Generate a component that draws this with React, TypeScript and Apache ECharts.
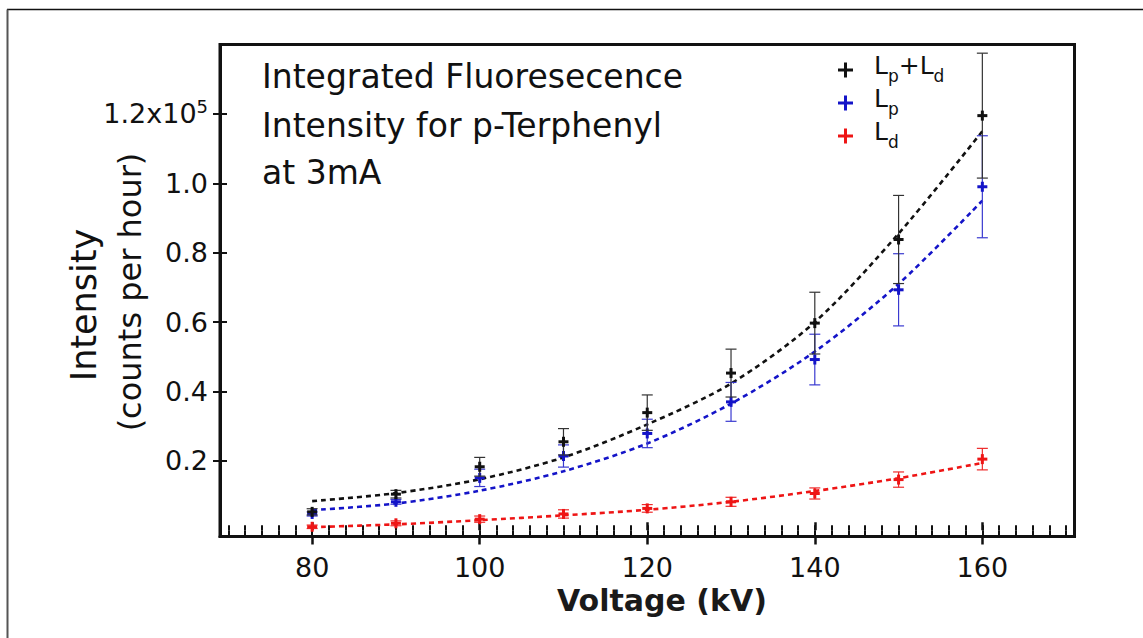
import React, { useEffect, useRef } from 'react';
import * as echarts from 'echarts';

const voltages = [80, 90, 100, 110, 120, 130, 140, 150, 160];
const totalValues = [5300, 10400, 18300, 25500, 33900, 45300, 59700, 83800, 119500];
const totalErrors = [900, 1100, 2700, 3800, 5100, 6900, 8900, 12700, 18000];
const pValues = [4700, 8200, 15100, 21400, 27900, 37000, 49200, 69300, 99000];
const pErrors = [600, 700, 2500, 3200, 4100, 5600, 7300, 10400, 14700];
const dValues = [1000, 2000, 3200, 4700, 6300, 8200, 10600, 14600, 20500];
const dErrors = [500, 700, 900, 1200, 1100, 1300, 1600, 2200, 3100];
const totalFit = [8400, 10700, 14700, 21000, 30500, 42300, 60000, 85500, 115000];
const pFit = [5800, 7700, 11400, 17000, 25000, 36500, 51500, 71000, 95000];
const dFit = [900, 1700, 2900, 4300, 5900, 8200, 11300, 15000, 19400];

const xLabelTicks = [80, 100, 120, 140, 160];
const xMinorTicks = [70, 72, 74, 76, 78, 80, 82, 84, 86, 88, 90, 92, 94, 96, 98, 100, 102, 104, 106, 108, 110, 112, 114, 116, 118, 120, 122, 124, 126, 128, 130, 132, 134, 136, 138, 140, 142, 144, 146, 148, 150, 152, 154, 156, 158, 160, 162, 164, 166, 168, 170];
const yTicks = [20000, 40000, 60000, 80000, 100000, 120000];
const yTickLabels = ['0.2', '0.4', '0.6', '0.8', '1.0', '1.2x10{sup|5}'];
const titleLines = ['Integrated Fluoresecence', 'Intensity for p-Terphenyl', 'at 3mA'];

const FONT = 'DejaVu Sans';
const BLACK = '#111111';
const BLUE = '#1414c8';
const RED = '#ee1515';

const X_MIN = 69;
const X_MAX = 171;
const Y_MIN = -1800;
const Y_MAX = 140000;

const gridRect = { left: 220, right: 68.5, top: 44.5, bottom: 101.5, containLabel: false, outerBoundsMode: 'none' };

function errorSeries(name: string, values: number[], errors: number[], color: string, barColor: string, z: number) {
  return {
    type: 'custom',
    name,
    xAxisIndex: 0,
    yAxisIndex: 0,
    z,
    clip: false,
    data: voltages.map((v, i) => [v, values[i], values[i] - errors[i], values[i] + errors[i]]),
    encode: { x: 0, y: [1, 2, 3] },
    renderItem: (params: any, api: any) => {
      const x = api.value(0);
      const c = api.coord([x, api.value(1)]);
      const lo = api.coord([x, api.value(2)]);
      const hi = api.coord([x, api.value(3)]);
      const cap = 5.5;
      const m = 5;
      const bar = { stroke: barColor, lineWidth: 1.2 };
      const mk = { stroke: color, lineWidth: 3 };
      return {
        type: 'group',
        children: [
          { type: 'line', shape: { x1: lo[0], y1: lo[1], x2: hi[0], y2: hi[1] }, style: bar },
          { type: 'line', shape: { x1: lo[0] - cap, y1: lo[1], x2: lo[0] + cap, y2: lo[1] }, style: bar },
          { type: 'line', shape: { x1: hi[0] - cap, y1: hi[1], x2: hi[0] + cap, y2: hi[1] }, style: bar },
          { type: 'line', shape: { x1: c[0] - m, y1: c[1], x2: c[0] + m, y2: c[1] }, style: mk },
          { type: 'line', shape: { x1: c[0], y1: c[1] - m, x2: c[0], y2: c[1] + m }, style: mk },
        ],
      };
    },
  };
}

function fitSeries(name: string, values: number[], color: string, z: number) {
  return {
    type: 'line',
    name,
    xAxisIndex: 0,
    yAxisIndex: 0,
    z,
    smooth: 0.3,
    showSymbol: false,
    symbol: 'none',
    data: voltages.map((v, i) => [v, values[i]]),
    lineStyle: { color, width: 2.6, type: [5, 4] },
  };
}

function legendItem(y: number, color: string, label: string) {
  return {
    type: 'group',
    children: [
      { type: 'line', shape: { x1: 838, y1: y, x2: 853, y2: y }, style: { stroke: color, lineWidth: 3 } },
      { type: 'line', shape: { x1: 845.5, y1: y - 7.5, x2: 845.5, y2: y + 7.5 }, style: { stroke: color, lineWidth: 3 } },
      {
        type: 'text',
        x: 874,
        y: y + 2,
        style: {
          text: label,
          fill: BLACK,
          font: `25px "${FONT}"`,
          verticalAlign: 'middle',
          textVerticalAlign: 'middle',
          rich: {
            n: { fontSize: 25, fontFamily: FONT, fill: BLACK, lineHeight: 25, verticalAlign: 'bottom', padding: [0, 0, 7, 0] },
            s: { fontSize: 17, fontFamily: FONT, fill: BLACK, lineHeight: 17, verticalAlign: 'bottom' },
          },
        },
      },
    ],
  };
}

function titleText(text: string, y: number) {
  return {
    type: 'text', x: 262, y,
    style: { text, font: `33px "${FONT}"`, fill: BLACK, verticalAlign: 'middle', textVerticalAlign: 'middle' },
  };
}

export default function App() {
  const ref = useRef<HTMLDivElement>(null);
  useEffect(() => {
    document.body.style.margin = '0';
    if (!ref.current) return;
    const chart = echarts.init(ref.current, undefined, { renderer: 'svg' });

    const hiddenY = (gi: number) => ({ type: 'value', gridIndex: gi, min: Y_MIN, max: Y_MAX, show: false });

    const option: any = {
      animation: false,
      backgroundColor: '#ffffff',
      grid: [
        { ...gridRect, show: true, borderColor: BLACK, borderWidth: 3, backgroundColor: 'transparent' },
        { ...gridRect },
        { ...gridRect },
        { ...gridRect },
      ],
      xAxis: [
        {
          type: 'value', gridIndex: 0, min: X_MIN, max: X_MAX,
          axisLine: { show: true, onZero: false, lineStyle: { color: BLACK, width: 3 } },
          axisTick: { show: true, inside: false, length: 8, customValues: xLabelTicks, lineStyle: { color: BLACK, width: 2.5 } },
          axisLabel: { show: true, customValues: xLabelTicks, margin: 17, fontSize: 27, fontFamily: FONT, color: BLACK },
          splitLine: { show: false },
        },
        {
          type: 'value', gridIndex: 1, min: X_MIN, max: X_MAX,
          axisLine: { show: false },
          axisTick: { show: true, inside: true, length: 8, customValues: xLabelTicks, lineStyle: { color: BLACK, width: 2.5 } },
          axisLabel: { show: false },
          splitLine: { show: false },
        },
        {
          type: 'value', gridIndex: 2, min: X_MIN, max: X_MAX,
          axisLine: { show: false },
          axisTick: { show: true, inside: false, length: 5, customValues: xMinorTicks, lineStyle: { color: BLACK, width: 2 } },
          axisLabel: { show: false },
          splitLine: { show: false },
        },
        {
          type: 'value', gridIndex: 3, min: X_MIN, max: X_MAX,
          axisLine: { show: false },
          axisTick: { show: true, inside: true, length: 5, customValues: xMinorTicks, lineStyle: { color: BLACK, width: 2 } },
          axisLabel: { show: false },
          splitLine: { show: false },
        },
      ],
      yAxis: [
        {
          type: 'value', gridIndex: 0, min: Y_MIN, max: Y_MAX,
          axisLine: { show: true, onZero: false, lineStyle: { color: BLACK, width: 3 } },
          axisTick: { show: true, inside: false, length: 7, customValues: yTicks, lineStyle: { color: BLACK, width: 2 } },
          axisLabel: {
            show: true,
            customValues: yTicks,
            margin: 12,
            fontSize: 27,
            fontFamily: FONT,
            color: BLACK,
            formatter: (v: number) => {
              const i = yTicks.indexOf(v);
              return i >= 0 ? yTickLabels[i] : '';
            },
            rich: {
              sup: { fontSize: 18, fontFamily: FONT, color: BLACK, verticalAlign: 'bottom', padding: [0, 0, 14, 0] },
            },
          },
          splitLine: { show: false },
        },
        {
          type: 'value', gridIndex: 1, min: Y_MIN, max: Y_MAX,
          axisLine: { show: false },
          axisTick: { show: true, inside: true, length: 7, customValues: yTicks, lineStyle: { color: BLACK, width: 2 } },
          axisLabel: { show: false },
          splitLine: { show: false },
        },
        hiddenY(2),
        hiddenY(3),
      ],
      series: [
        fitSeries('Ld fit', dFit, RED, 2),
        fitSeries('Lp fit', pFit, BLUE, 2),
        fitSeries('Lp+Ld fit', totalFit, BLACK, 2),
        errorSeries('Ld', dValues, dErrors, RED, '#ee2a2a', 4),
        errorSeries('Lp', pValues, pErrors, BLUE, '#3a3ad0', 5),
        errorSeries('Lp+Ld', totalValues, totalErrors, BLACK, '#333333', 6),
      ],
      graphic: [
        { type: 'line', shape: { x1: 7, y1: 9.5, x2: 1143, y2: 9.5 }, style: { stroke: '#111', lineWidth: 1.7 } },
        { type: 'line', shape: { x1: 7.5, y1: 9.5, x2: 7.5, y2: 638 }, style: { stroke: '#555', lineWidth: 2 } },
        titleText(titleLines[0], 76),
        titleText(titleLines[1], 125),
        titleText(titleLines[2], 172),
        {
          type: 'text', x: 84, y: 305, rotation: Math.PI / 2,
          style: { text: 'Intensity', font: `35px "${FONT}"`, fill: BLACK, align: 'center', verticalAlign: 'middle', textAlign: 'center', textVerticalAlign: 'middle' },
        },
        {
          type: 'text', x: 130, y: 292, rotation: Math.PI / 2,
          style: { text: '(counts per hour)', font: `32px "${FONT}"`, fill: BLACK, align: 'center', verticalAlign: 'middle', textAlign: 'center', textVerticalAlign: 'middle' },
        },
        {
          type: 'text', x: 662, y: 600,
          style: { text: 'Voltage (kV)', font: `bold 30px "${FONT}"`, fill: '#1a1a1a', align: 'center', verticalAlign: 'middle', textAlign: 'center', textVerticalAlign: 'middle' },
        },
        legendItem(70, BLACK, '{n|L}{s|p}{n|+L}{s|d}'),
        legendItem(103, BLUE, '{n|L}{s|p}'),
        legendItem(136, RED, '{n|L}{s|d}'),
      ],
    };
    chart.setOption(option);
    return () => chart.dispose();
  }, []);
  return <div ref={ref} style={{ width: 1143, height: 638 }} />;
}
